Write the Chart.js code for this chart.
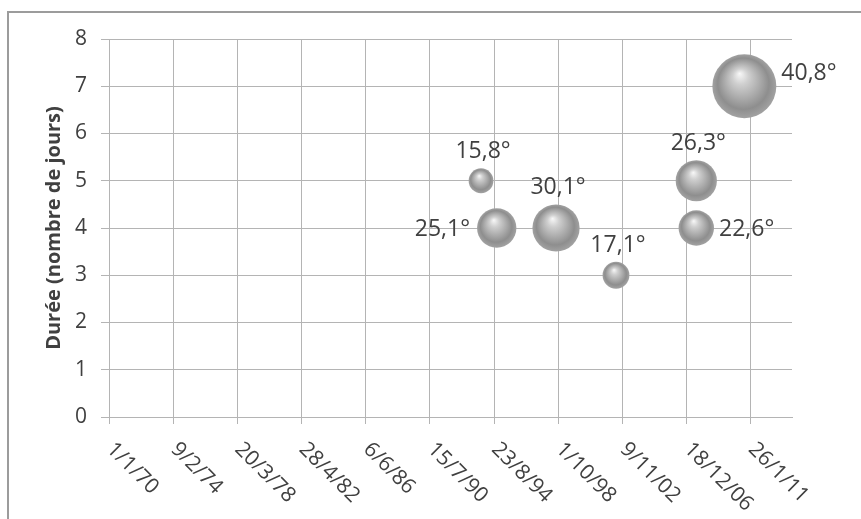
<!DOCTYPE html>
<html>
<head>
<meta charset="utf-8">
<script src="https://cdn.jsdelivr.net/npm/chart.js@4/dist/chart.umd.min.js"></script>
<style>
    html, body { margin: 0; padding: 0; background: #fff; }
</style>
</head>
<body>
<canvas id="chart" width="861" height="519"></canvas>
<script>
// heatwaves: start date, duration (days), temperature (bubble size)
const dates = ['1993-10-23', '1994-10-25', '1998-08-11', '2002-06-13', '2007-08-03', '2007-08-03', '2010-08-30'];
const durations = [5, 4, 4, 3, 5, 4, 7];
const temperatures = [15.8, 25.1, 30.1, 17.1, 26.3, 22.6, 40.8];
const tempLabels = ['15,8°', '25,1°', '30,1°', '17,1°', '26,3°', '22,6°', '40,8°'];
const xTickDates = ['1970-01-01', '1974-02-09', '1978-03-20', '1982-04-28', '1986-06-06', '1990-07-15',
    '1994-08-23', '1998-10-01', '2002-11-09', '2006-12-18', '2011-01-26'];
const yTicks = [0, 1, 2, 3, 4, 5, 6, 7, 8];

const DAY = 86400000;
const toDays = s => Date.parse(s + 'T00:00:00Z') / DAY;
const fmtDay = v => {
    const d = new Date(v * DAY);
    return d.getUTCDate() + '/' + (d.getUTCMonth() + 1) + '/' + String(d.getUTCFullYear()).slice(2);
};

const sizeK = 0.784;
const textColor = '#404040';
const gridColor = '#b4b4b4';
const font = '"Open Sans"';

// where each value label sits around its bubble
const labelPlacement = [
    { pos: 'top' }, { pos: 'left' }, { pos: 'top' }, { pos: 'top' },
    { pos: 'top' }, { pos: 'right' }, { pos: 'right', dy: -14 }
];

function sphere(c) {
    const chart = c.chart;
    if (!chart.chartArea || c.type !== 'data') return '#a0a0a0';
    const x = chart.scales.x.getPixelForValue(c.raw.x);
    const y = chart.scales.y.getPixelForValue(c.raw.y);
    const r = c.raw.r;
    const g = chart.ctx.createRadialGradient(x - 0.15 * r, y - 0.4 * r, 0, x, y, r);
    g.addColorStop(0, '#f8f8f8');
    g.addColorStop(0.25, '#cfcfcf');
    g.addColorStop(0.8, '#8e8e8e');
    g.addColorStop(1, '#a2a2a2');
    return g;
}

const extras = {
    id: 'extras',
    beforeDraw(chart) {
        const ctx = chart.ctx;
        ctx.save();
        ctx.fillStyle = '#9c9c9c';
        ctx.fillRect(7, 11, 2, 519);
        ctx.fillRect(7, 11, 861, 2);
        ctx.restore();
    },
    afterDraw(chart) {
        const ctx = chart.ctx, sx = chart.scales.x;
        ctx.save();
        ctx.fillStyle = textColor;
        // slanted date labels, reading downwards from the tick
        ctx.font = '21px ' + font;
        ctx.textAlign = 'left';
        ctx.textBaseline = 'middle';
        sx.ticks.forEach(t => {
            const px = sx.getPixelForValue(t.value);
            ctx.save();
            ctx.translate(px + 1, sx.top + 29);
            ctx.rotate(Math.PI / 4);
            ctx.fillText(fmtDay(t.value), 0, 0);
            ctx.restore();
        });
        // bubble value labels
        ctx.font = '23px ' + font;
        ctx.textBaseline = 'alphabetic';
        const meta = chart.getDatasetMeta(0);
        meta.data.forEach((el, i) => {
            const r = temperatures[i] * sizeK;
            const p = labelPlacement[i];
            const dy = p.dy || 0;
            if (p.pos === 'top') {
                ctx.textAlign = 'center';
                ctx.fillText(tempLabels[i], el.x + 2, el.y - r - 10 + dy);
            } else if (p.pos === 'left') {
                ctx.textAlign = 'right';
                ctx.fillText(tempLabels[i], el.x - r - 7, el.y + 8 + dy);
            } else {
                ctx.textAlign = 'left';
                ctx.fillText(tempLabels[i], el.x + r + 5, el.y + 8 + dy);
            }
        });
        ctx.restore();
    }
};

new Chart(document.getElementById('chart'), {
    type: 'bubble',
    data: {
        datasets: [{
            data: dates.map((d, i) => ({ x: toDays(d), y: durations[i], r: temperatures[i] * sizeK })),
            backgroundColor: sphere,
            borderWidth: 0,
            hoverBorderWidth: 0
        }]
    },
    options: {
        responsive: false,
        animation: false,
        events: [],
        layout: { padding: { top: 39, right: 69, left: 0, bottom: 0 } },
        plugins: { legend: { display: false }, tooltip: { enabled: false } },
        scales: {
            x: {
                type: 'linear',
                min: 0,
                max: 15965,
                afterFit: s => { s.height = 102; },
                afterBuildTicks: s => { s.ticks = xTickDates.map(d => ({ value: toDays(d) })); },
                ticks: { display: false },
                grid: { color: gridColor, tickLength: 7 },
                border: { color: gridColor }
            },
            y: {
                min: 0,
                max: 8,
                afterFit: s => { s.width = 109; },
                afterBuildTicks: s => { s.ticks = yTicks.map(v => ({ value: v })); },
                ticks: { padding: 14, color: textColor, font: { family: font, size: 21 } },
                grid: { color: gridColor, tickLength: 8 },
                border: { color: gridColor },
                title: {
                    display: true,
                    text: 'Durée (nombre de jours)',
                    color: textColor,
                    font: { family: font, size: 20, weight: 'bold' },
                    padding: { top: 42, bottom: 0 }
                }
            }
        }
    },
    plugins: [extras]
});
</script>
</body>
</html>
